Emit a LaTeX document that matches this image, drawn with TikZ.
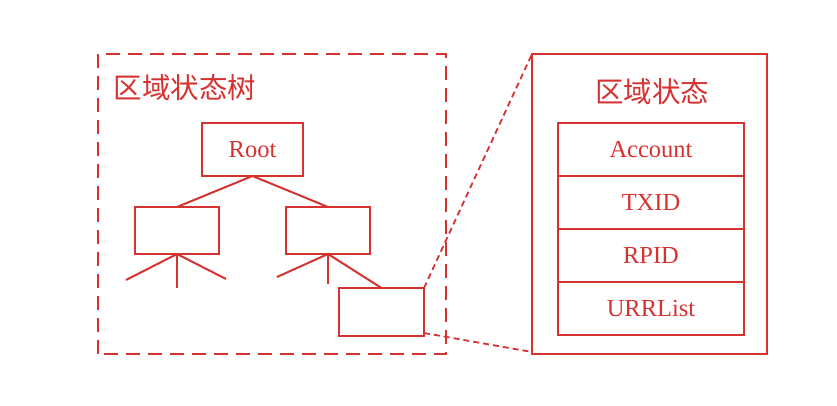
\documentclass[tikz,border=0pt]{standalone}
\usepackage{fontspec}
\setmainfont{Liberation Serif}
\newfontfamily\cjk{Noto Sans CJK SC}
\usetikzlibrary{positioning}
\begin{document}
\begin{tikzpicture}[x=1pt,y=1pt,
  box/.style={draw=drawColor,line width=2pt,inner sep=0pt,outer sep=0pt,text=drawColor,font=\fontsize{24.5}{29}\selectfont},
  rowbox/.style={box,minimum width=186,minimum height=53},
  kidbox/.style={box,minimum width=84,minimum height=47},
  title/.style={text=drawColor,inner sep=0pt,font=\cjk\fontsize{28.5}{33}\selectfont},
  edge/.style={draw=drawColor,line width=2pt},
  zoomline/.style={draw=drawColor,line width=1.8pt,dash pattern=on 6pt off 4pt}]
\definecolor{fillColor}{RGB}{255,255,255}
\definecolor{drawColor}{RGB}{215,50,50}
\path[use as bounding box,fill=fillColor] (0,0) rectangle (837,406);

% region state tree
\path[draw=drawColor,line width=2pt,dash pattern=on 14pt off 8pt] ( 98, 52) rectangle (446,352);
\node[title] (treetitle) at (185,318) {区域状态树};

\node[box,minimum width=101,minimum height=53] (root) at (252.5,256.5) {Root};
\node[kidbox] (left) at (177,175.5) {};
\node[kidbox] (right) at (328,175.5) {};
\node[box,minimum width=85,minimum height=48] (leaf) at (381.5,94) {};

\coordinate (l1) at (126,126);
\coordinate (l2) at (177,118);
\coordinate (l3) at (226,127);
\coordinate (r1) at (277,129);
\coordinate (r2) at (328,122);

\path[edge] (root.south) -- (left.north);
\path[edge] (root.south) -- (right.north);
\path[edge] (left.south) -- (l1);
\path[edge] (left.south) -- (l2);
\path[edge] (left.south) -- (l3);
\path[edge] (right.south) -- (r1);
\path[edge] (right.south) -- (r2);
\path[edge] (right.south) -- (leaf.north);

% region state
\node[box,minimum width=235,minimum height=300] (state) at (649.5,202) {};
\node[title] (statetitle) at (652,314) {区域状态};

\node[rowbox] (account) at (651,256.5) {Account};
\node[rowbox,below=0pt of account] (txid) {TXID};
\node[rowbox,below=0pt of txid] (rpid) {RPID};
\node[rowbox,below=0pt of rpid] (urr) {URRList};

\path[zoomline] (leaf.north east) -- (state.north west);
\path[zoomline] ([yshift=3pt]leaf.south east) -- ([yshift=2pt]state.south west);
\end{tikzpicture}
\end{document}
